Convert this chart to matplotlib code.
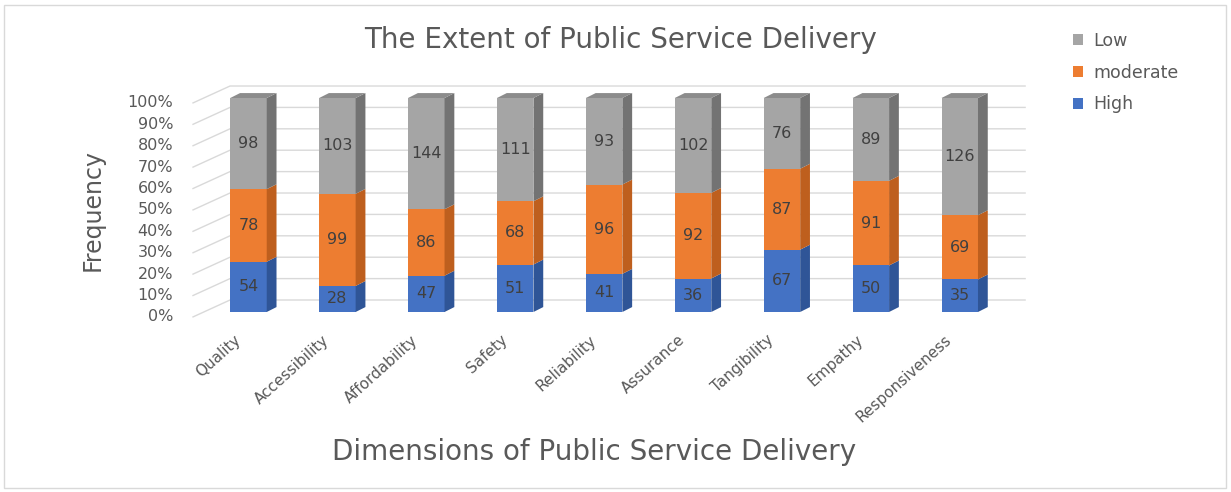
import numpy as np
import matplotlib.pyplot as plt
from matplotlib.patches import Polygon, Patch, Rectangle

plt.rcParams['font.family'] = ['DejaVu Sans']

# Data (counts per dimension)
categories = ["Quality", "Accessibility", "Affordability", "Safety", "Reliability",
              "Assurance", "Tangibility", "Empathy", "Responsiveness"]
high = [54, 28, 47, 51, 41, 36, 67, 50, 35]
moderate = [78, 99, 86, 68, 96, 92, 87, 91, 69]
low = [98, 103, 144, 111, 93, 102, 76, 89, 126]
series_names = ["High", "moderate", "Low"]
y_ticks = [0, 10, 20, 30, 40, 50, 60, 70, 80, 90, 100]

# front / side / top colours for each series
front_cols = ["#4472C4", "#ED7D31", "#A5A5A5"]
side_cols = ["#2F5597", "#BE5F1E", "#737373"]
top_col = "#8C8C8C"
text_col = "#595959"
grid_col = "#D9D9D9"

# fake 3D geometry (data units)
bar_w = 0.41
depth_dx, depth_dy = 0.11, 2.3
wall_front_x, wall_back_x = -0.624, -0.208
wall_front_dy, wall_back_dy = -2.3, 5.6
grid_right = 8.735

fig = plt.figure(figsize=(12.31, 4.92), dpi=100)
fig.patches.append(Rectangle((4 / 1231, 4 / 492), 1222 / 1231, 483 / 492,
                             transform=fig.transFigure, fill=False,
                             edgecolor=grid_col, lw=1))
ax = fig.add_axes([190 / 1231, (492 - 320) / 492, 840 / 1231, 240 / 492])
ax.set_xlim(-0.658, 8.79)
ax.set_ylim(-3.74, 108.41)
ax.axis("off")

# gridlines: diagonal floor piece + back wall line
for p in y_ticks:
    ax.plot([wall_front_x, wall_back_x, grid_right],
            [p + wall_front_dy, p + wall_back_dy, p + wall_back_dy],
            color=grid_col, lw=1, zorder=1)
    ax.text(wall_front_x - 0.225, p + wall_front_dy, f"{p}%", ha="right", va="center",
            fontsize=11.5, color=text_col)

counts = np.array([high, moderate, low], dtype=float)
pct = counts / counts.sum(axis=0) * 100
x = np.arange(len(categories))

bottom = np.zeros(len(categories))
for s in range(3):
    ax.bar(x, pct[s], bottom=bottom, width=bar_w, color=front_cols[s], zorder=3)
    for i in range(len(categories)):
        y0, y1 = bottom[i], bottom[i] + pct[s][i]
        xr = x[i] + bar_w / 2
        side = Polygon([(xr, y0), (xr + depth_dx, y0 + depth_dy),
                        (xr + depth_dx, y1 + depth_dy), (xr, y1)],
                       closed=True, facecolor=side_cols[s], edgecolor="none", zorder=3)
        ax.add_patch(side)
        ax.text(x[i], (y0 + y1) / 2, f"{int(counts[s][i])}", ha="center", va="center",
                fontsize=11.5, color="#404040", zorder=5)
    bottom += pct[s]

# bar tops
for i in range(len(categories)):
    xl, xr = x[i] - bar_w / 2, x[i] + bar_w / 2
    top = Polygon([(xl, 100), (xl + depth_dx, 100 + depth_dy),
                   (xr + depth_dx, 100 + depth_dy), (xr, 100)],
                  closed=True, facecolor=top_col, edgecolor="none", zorder=3)
    ax.add_patch(top)

# category labels
for i, name in enumerate(categories):
    ax.text(x[i] - 0.17, -9.5, name, rotation=42, rotation_mode="anchor",
            ha="right", va="top", fontsize=11, color=text_col)

fig.text(621 / 1231, 1 - 40 / 492, "The Extent of Public Service Delivery",
         ha="center", va="center", fontsize=20, color=text_col)
fig.text(594 / 1231, 1 - 452 / 492, "Dimensions of Public Service Delivery",
         ha="center", va="center", fontsize=20, color=text_col)
fig.text(93 / 1231, 1 - 210 / 492, "Frequency", rotation=90,
         ha="center", va="center", fontsize=17, color=text_col)

handles = [Patch(facecolor=front_cols[s]) for s in (2, 1, 0)]
labels = [series_names[s] for s in (2, 1, 0)]
fig.legend(handles, labels, loc="upper left", bbox_to_anchor=(1057 / 1231, 1 - 16 / 492),
           frameon=False, fontsize=12.5, labelspacing=0.8, handlelength=0.58,
           handleheight=0.58, handletextpad=0.63, labelcolor=text_col)

fig.savefig("out.png", dpi=100)
